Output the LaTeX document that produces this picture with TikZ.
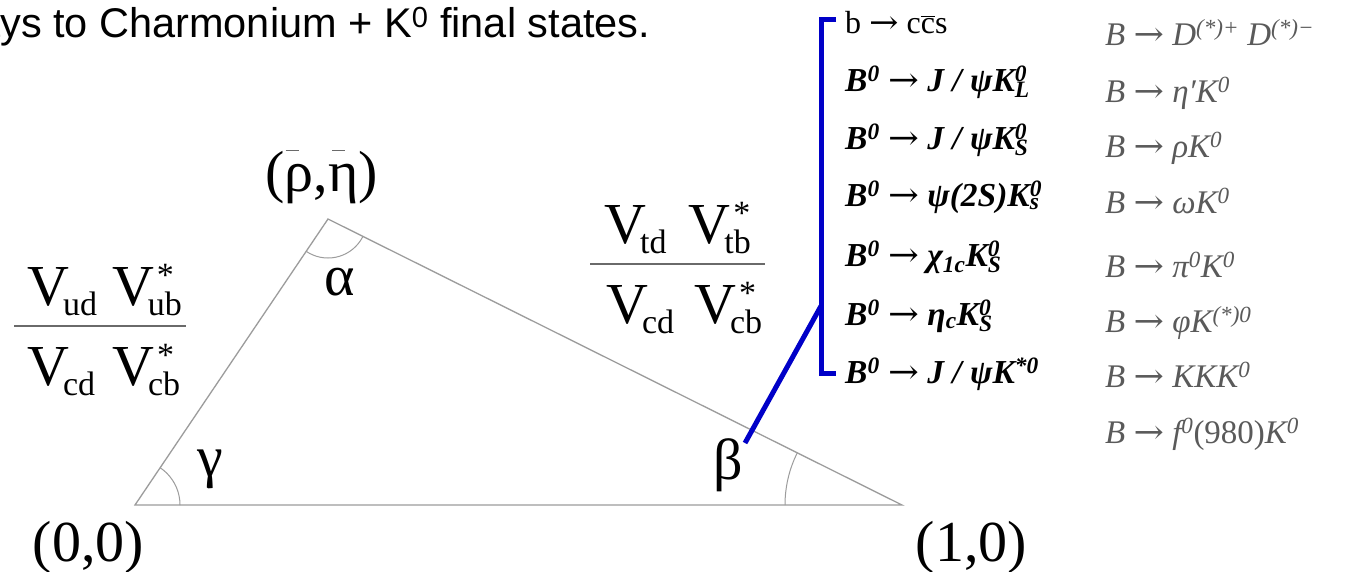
\documentclass[tikz,border=0pt]{standalone}
\usepackage{fontspec}
\setmainfont{Liberation Serif}
\newfontfamily\arialfont{Liberation Sans}
\newfontfamily\arrfont{DejaVu Serif}
\definecolor{trigray}{HTML}{9C9C9C}
\definecolor{bargray}{HTML}{6A6A6A}
\definecolor{listgray}{HTML}{5A5A5A}
\definecolor{bracketblue}{HTML}{0000C8}
\newcommand\SupSub[2]{\rlap{\textsuperscript{#1}}\textsubscript{#2}}
\newcommand\subfont{\fontsize{34}{34}\selectfont}
\newcommand\Vs[1]{V\kern-6pt\raisebox{-10pt}{\subfont #1}}
\newcommand\Vss[1]{V\kern-6pt\rlap{\kern9pt\raisebox{19pt}{\subfont *}}\raisebox{-10pt}{\subfont #1}}
\newcommand\topbar[2]{\rlap{\kern#1\raisebox{40pt}{\color{bargray}\rule{13pt}{1.4pt}}}#2}
\newcommand\arr{\scalebox{1.1}[1]{\arrfont\upshape\mdseries →}}
\tikzset{
  tri/.style={draw=trigray, line width=1.3pt},
  arcline/.style={draw=trigray, line width=1pt},
  fracbar/.style={draw=bargray, line width=2.6pt},
  blueline/.style={draw=bracketblue, line width=5pt},
  big/.style={font=\fontsize{58}{60}\selectfont, inner sep=0pt},
  listA/.style={font=\fontsize{33.5}{35}\selectfont\bfseries\itshape, inner sep=0pt, anchor=base west},
  listB/.style={font=\fontsize{33}{35}\selectfont\itshape, text=listgray, inner sep=0pt, anchor=base west},
  title/.style={font=\arialfont\fontsize{41.5}{44}\selectfont, inner sep=0pt, anchor=base west}
}
\begin{document}
\begin{tikzpicture}[x=1pt,y=-1pt]
\useasboundingbox (0,0) rectangle (1346,571);
\clip (0,0) rectangle (1346,571);
\fill[white] (0,0) rectangle (1346,571);

% title
\node[title] (ttl) at (-23,37) {ays to Charmonium + K\textsuperscript{0} final states.};

% triangle
\coordinate (A) at (135,505);
\coordinate (P) at (328,219);
\coordinate (Bv) at (902,505);
\draw[tri] (A) -- (P) -- (Bv) -- cycle;
\begin{scope}
  \clip (A) -- (P) -- (Bv) -- cycle;
  \draw[arcline] (A) circle[radius=45];
  \draw[arcline] (P) circle[radius=39];
  \draw[arcline] (Bv) circle[radius=117];
\end{scope}

% vertex labels
\node[big, anchor=base] (lrhoeta) at (321.5,191) {(\topbar{1pt}{ρ},\topbar{4pt}{η})};
\node[big, anchor=base] (l00) at (88.5,561) {(0,0)};
\node[big, anchor=base] (l10) at (971.5,561) {(1,0)};
\node[big] (alpha) at (340,282) {α};
\node[big] (gamma) at (210,469) {γ};
\node[big] (beta) at (728,465) {β};

% fractions
\node[big, anchor=base west] (lnum) at (27,305) {\Vs{ud}\kern15pt\Vss{ub}};
\node[big, anchor=base west] (lden) at (27,385) {\Vs{cd}\kern17pt\Vss{cb}};
\coordinate (lb1) at (14,326); \coordinate (lb2) at (186,326);
\draw[fracbar] (lb1) -- (lb2);
\node[big, anchor=base west] (rnum) at (604,243) {\Vs{td}\kern22pt\Vss{tb}};
\node[big, anchor=base west] (rden) at (606,323) {\Vs{cd}\kern20pt\Vss{cb}};
\coordinate (rb1) at (590,264); \coordinate (rb2) at (765,264);
\draw[fracbar] (rb1) -- (rb2);

% blue bracket
\coordinate (brT) at (836,19);
\coordinate (brTc) at (821,19);
\coordinate (brBc) at (821,373);
\coordinate (brB) at (836,373);
\coordinate (brJ) at (821,306);
\coordinate (betaEnd) at (745,443);
\draw[blueline] (brT) -- (brTc) -- (brBc) -- (brB);
\draw[blueline] (brJ) -- (betaEnd);

% charmonium list
\node[listA, font=\fontsize{32}{34}\selectfont] (c1) at (845,33) {b \arr{} c$\overline{\hbox{c}}$s};
\node[listA] (c2) at (845,91) {B\textsuperscript{0} \arr{} J / ψK\SupSub{0}{L}};
\node[listA] (c3) at (845,149) {B\textsuperscript{0} \arr{} J / ψK\SupSub{0}{S}};
\node[listA] (c4) at (845,206) {B\textsuperscript{0} \arr{} ψ(2S)K\SupSub{0}{s}};
\node[listA] (c5) at (845,266) {B\textsuperscript{0} \arr{} χ\textsubscript{1c}K\SupSub{0}{S}};
\node[listA] (c6) at (845,325) {B\textsuperscript{0} \arr{} η\textsubscript{c}K\SupSub{0}{S}};
\node[listA] (c7) at (845,383) {B\textsuperscript{0} \arr{} J / ψK\textsuperscript{*0}};

% penguin list
\node[listB] (p1) at (1105,45) {B \arr{} D\textsuperscript{(*)+} D\textsuperscript{(*)−}};
\node[listB] (p2) at (1105,102) {B \arr{} η′K\textsuperscript{0}};
\node[listB] (p3) at (1105,157) {B \arr{} ρK\textsuperscript{0}};
\node[listB] (p4) at (1105,213) {B \arr{} ωK\textsuperscript{0}};
\node[listB] (p5) at (1105,277) {B \arr{} π\textsuperscript{0}K\textsuperscript{0}};
\node[listB] (p6) at (1105,332) {B \arr{} φK\textsuperscript{(*)0}};
\node[listB] (p7) at (1105,387) {B \arr{} KKK\textsuperscript{0}};
\node[listB] (p8) at (1105,443) {B \arr{} f\textsuperscript{0}{\upshape(980)}K\textsuperscript{0}};
\end{tikzpicture}
\end{document}
